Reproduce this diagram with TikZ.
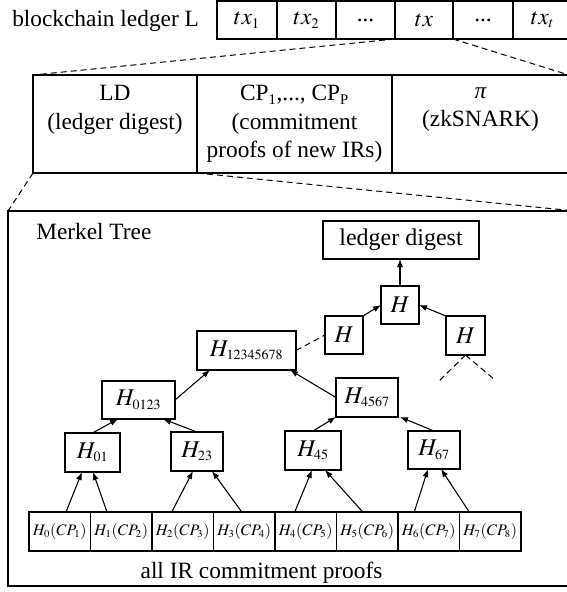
\documentclass[tikz,border=0pt]{standalone}
\usepackage{mathptmx}
\usepackage{fontspec}
\setmainfont{Liberation Serif}
\usetikzlibrary{calc,arrows.meta}
\DeclareMathSizes{17.5}{17.5}{11}{8}
\DeclareMathSizes{18}{18}{10.5}{8}
\DeclareMathSizes{12}{12}{8}{6}
\newcommand\lf[2]{\makebox[0pt]{$H_{#1}(CP_{#2})$}}
\tikzset{
  cell/.style={draw, line width=0.8pt, inner sep=0pt, outer sep=0pt},
  hb/.style={cell, font=\fontsize{18}{21}\selectfont, minimum height=38*0.75pt},
  leaf/.style={cell, font=\fontsize{12}{15}\selectfont, minimum height=39*0.75pt, minimum width=61.5*0.75pt, anchor=west},
  tx/.style={cell, font=\fontsize{17.5}{21}\selectfont, minimum height=38*0.75pt, anchor=west},
  f17/.style={font=\fontsize{17.5}{21.4}\selectfont},
  arr/.style={line width=0.8pt, -{Latex[length=6pt,width=4.5pt]}},
  dsh/.style={line width=0.75pt, dash pattern=on 4.5pt off 3pt},
}
\begin{document}
\begin{tikzpicture}[x=0.75pt,y=-0.75pt]
\useasboundingbox (0,0) rectangle (567,592);
\clip (0,0) rectangle (567,592);

% ledger row
\node[f17, anchor=base west, inner sep=0pt] (lbl) at (12,27) {blockchain ledger L};
\node[tx, minimum width=60*0.75pt, anchor=north west] (t1) at (217,1) {$tx_1$};
\node[tx, minimum width=59*0.75pt] (t2) at (t1.east) {$tx_2$};
\node[tx, minimum width=59*0.75pt] (t3) at (t2.east) {...};
\node[tx, minimum width=58*0.75pt] (t4) at (t3.east) {$tx$};
\node[tx, minimum width=60*0.75pt] (t5) at (t4.east) {...};
\node[tx, minimum width=59*0.75pt] (t6) at (t5.east) {$tx_t$};

% transaction contents
\node[cell, minimum width=164*0.75pt, minimum height=98*0.75pt, anchor=north west] (ld) at (33,75) {};
\node[f17, align=center, inner sep=0pt] (ldt) at ($(ld.center)+(0,-14.25)$) {LD\\(ledger digest)};
\node[cell, f17, align=center, minimum width=195*0.75pt, minimum height=98*0.75pt, anchor=west] (cp) at (ld.east) {CP\textsubscript{1},..., CP\textsubscript{P}\\(commitment\\proofs of new IRs)};
\node[cell, minimum width=177*0.75pt, minimum height=98*0.75pt, anchor=west] (zk) at (cp.east) {};
\node[f17, align=center, inner sep=0pt] (zkt) at ($(zk.center)+(0,-14.25)$) {{\itshape π}\\(zkSNARK)};

% Merkle box
\node[cell, minimum width=567*0.75pt, minimum height=375*0.75pt, anchor=north west] (mt) at (8,211) {};
\node[f17, anchor=base west, inner sep=0pt] (mtl) at (36,239) {Merkel Tree};

\draw[dsh] (t4.south west) -- (ld.north west);
\draw[dsh] (t4.south east) -- (zk.north east);
\draw[dsh] (ld.south west) -- (mt.north west);
\draw[dsh] (ld.south east) -- (mt.north east);

% tree
\node[hb, minimum width=156*0.75pt] (dig) at (401,240) {ledger digest};
\node[hb, minimum width=38*0.75pt] (top) at (400,305) {$H$};
\node[hb, minimum width=38*0.75pt] (hm) at (344,335) {$H$};
\node[hb, minimum width=39*0.75pt, minimum height=39*0.75pt] (hr) at (465.5,335.5) {$H$};
\node[hb, minimum width=99*0.75pt, minimum height=39*0.75pt] (h8) at (246.5,350.5) {$H_{12345678}$};
\node[hb, minimum width=73*0.75pt] (h0123) at (138.5,400) {$H_{0123}$};
\node[hb, minimum width=62*0.75pt, minimum height=39*0.75pt] (h4567) at (367,397.5) {$H_{4567}$};
\node[hb, minimum width=55*0.75pt, minimum height=39*0.75pt] (h01) at (92.5,452.5) {$H_{01}$};
\node[hb, minimum width=52*0.75pt, minimum height=39*0.75pt] (h23) at (197,451.5) {$H_{23}$};
\node[hb, minimum width=56*0.75pt, minimum height=39*0.75pt] (h45) at (313,450.5) {$H_{45}$};
\node[hb, minimum width=52*0.75pt] (h67) at (434,450) {$H_{67}$};

\node[leaf, anchor=north west] (L0) at (29,512) {\lf01};
\node[leaf] (L1) at (L0.east) {\lf12};
\node[leaf] (L2) at (L1.east) {\lf23};
\node[leaf] (L3) at (L2.east) {\lf34};
\node[leaf] (L4) at (L3.east) {\lf45};
\node[leaf] (L5) at (L4.east) {\lf56};
\node[leaf] (L6) at (L5.east) {\lf67};
\node[leaf] (L7) at (L6.east) {\lf78};
\node[f17, anchor=base, inner sep=0pt] (all) at (261.5,578) {all IR commitment proofs};

\draw[arr] (top.north) -- (top.north |- dig.south);
\draw[arr] (hm.north east) -- (top.west);
\draw[arr] (hr.north west) -- (top.east);
\draw[dsh] (h8.east) -- (hm.west);
\coordinate (rl) at (438,382);
\coordinate (rr) at (495,380);
\draw[dsh] (hr.south) -- (rl);
\draw[dsh] (hr.south) -- (rr);
\draw[arr] (h0123.east) -- ($(h8.south west)+(13,0)$);
\draw[arr] (h4567.west) -- ($(h8.south east)+(-6,0)$);
\draw[arr] (h01.north) -- ($(h0123.south)+(-20.5,0)$);
\draw[arr] (h23.north) -- ($(h0123.south)+(24.5,0)$);
\draw[arr] (h45.north) -- (h4567.south west);
\draw[arr] (h67.north) -- ($(h4567.south east)+(2,0)$);
\draw[arr] ($(L0.north)+(6.25,0)$) -- ($(h01.south)+(-10.5,0)$);
\draw[arr] ($(L1.north)+(-14.25,0)$) -- ($(h01.south)+(0.5,0)$);
\draw[arr] ($(L2.north)+(-11,0)$) -- ($(h23.south)+(-4,0)$);
\draw[arr] ($(L3.north)+(-2.5,0)$) -- ($(h23.south)+(15,0)$);
\draw[arr] ($(L4.north)+(-11,0)$) -- ($(h45.south)+(-1,0)$);
\draw[arr] ($(L5.north)+(-4.5,0)$) -- ($(h45.south)+(12,0)$);
\draw[arr] ($(L6.north)+(-14.5,0)$) -- ($(h67.south)+(-6,0)$);
\draw[arr] ($(L7.north)+(-21,0)$) -- ($(h67.south)+(7,0)$);
\end{tikzpicture}
\end{document}
